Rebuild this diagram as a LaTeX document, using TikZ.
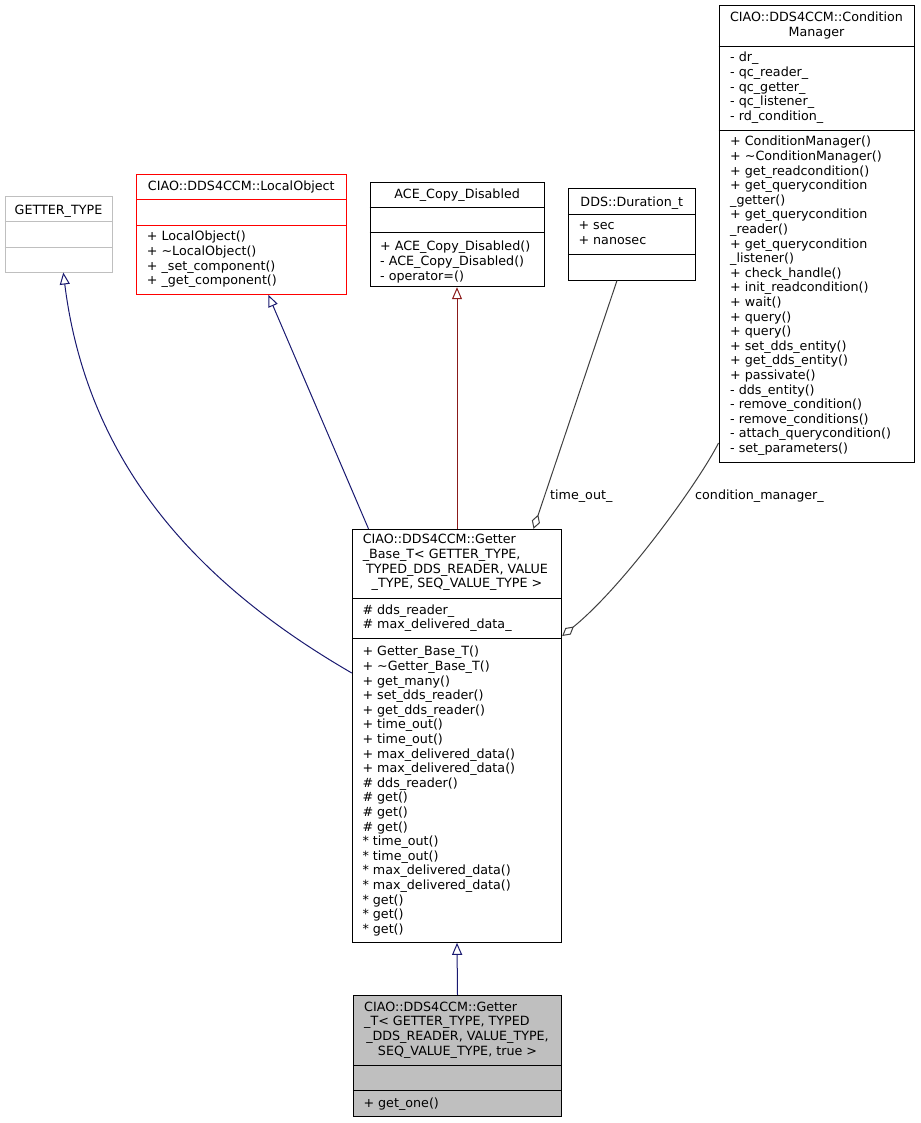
\documentclass[tikz,border=0pt]{standalone}
\usepackage{fontspec}
\setmainfont{DejaVu Sans}
\usetikzlibrary{arrows.meta,fit}
\definecolor{navy}{HTML}{191970}
\definecolor{brick}{HTML}{8B1A1A}
\definecolor{assoc}{HTML}{404040}
\definecolor{lgray}{HTML}{BFBFBF}
\newcommand\umlsize{\fontsize{12.7}{14.6}\selectfont}
\begin{document}
\begin{tikzpicture}[x=1pt,y=-1pt,
  box/.style={draw=black, line width=1pt, inner sep=0pt, fill=white},
  sepline/.style={line width=1pt},
  txt/.style={font=\umlsize, inner sep=0pt, anchor=north west, align=left, execute at begin node=\strut},
  ttl/.style={font=\umlsize, inner sep=0pt, anchor=north, align=center, execute at begin node=\strut},
  lbl/.style={font=\umlsize, inner sep=0pt, anchor=base west},
  inh/.style={-{Triangle[open,length=12pt,width=10pt,fill=white]}, line width=1pt},
  agg/.style={{Diamond[open,length=15pt,width=8.5pt,fill=white]}-, line width=1pt, draw=assoc}
]
\useasboundingbox (0,0) rectangle (920,1123);

% GETTER_TYPE
\node[box, draw=lgray, fit={(5,197) (112,272)}] (gtype) {};
\draw[sepline, lgray] (gtype.west |- 0,221.7) -- (gtype.east |- 0,221.7);
\draw[sepline, lgray] (gtype.west |- 0,247.3) -- (gtype.east |- 0,247.3);
\node[ttl] (gtypeT) at (58.5,203.6) {GETTER\_TYPE};

% LocalObject
\node[box, draw=red, fit={(136.7,174.7) (346,294.3)}] (lobj) {};
\draw[sepline, red] (lobj.west |- 0,199.3) -- (lobj.east |- 0,199.3);
\draw[sepline, red] (lobj.west |- 0,225.7) -- (lobj.east |- 0,225.7);
\node[ttl] (lobjT) at (241.3,180.3) {CIAO::DDS4CCM::LocalObject};
\node[txt] (lobjM) at (146.7,231) {+ LocalObject()\\+ \textasciitilde LocalObject()\\+ \_set\_component()\\+ \_get\_component()};

% ACE_Copy_Disabled
\node[box, fit={(370,182.3) (544.3,286.7)}] (ace) {};
\draw[sepline] (ace.west |- 0,207.3) -- (ace.east |- 0,207.3);
\draw[sepline] (ace.west |- 0,232.7) -- (ace.east |- 0,232.7);
\node[ttl] (aceT) at (457.2,187.6) {ACE\_Copy\_Disabled};
\node[txt] (aceM) at (380,241) {+ ACE\_Copy\_Disabled()\\- ACE\_Copy\_Disabled()\\- operator=()};

% DDS::Duration_t
\node[box, fit={(568.3,189) (695.3,280)}] (dur) {};
\draw[sepline] (dur.west |- 0,214.3) -- (dur.east |- 0,214.3);
\draw[sepline] (dur.west |- 0,254.3) -- (dur.east |- 0,254.3);
\node[ttl] (durT) at (631.8,196) {DDS::Duration\_t};
\node[txt] (durA) at (578.3,221.6) {+ sec\\+ nanosec};

% ConditionManager
\node[box, fit={(719,5.7) (914,462.3)}] (cm) {};
\draw[sepline] (cm.west |- 0,46.7) -- (cm.east |- 0,46.7);
\draw[sepline] (cm.west |- 0,130.7) -- (cm.east |- 0,130.7);
\node[ttl] (cmT) at (816.5,11.6) {CIAO::DDS4CCM::Condition\\Manager};
\node[txt] (cmA) at (730,52) {- dr\_\\- qc\_reader\_\\- qc\_getter\_\\- qc\_listener\_\\- rd\_condition\_};
\node[txt] (cmM) at (730,136) {+ ConditionManager()\\+ \textasciitilde ConditionManager()\\+ get\_readcondition()\\+ get\_querycondition\\\_getter()\\+ get\_querycondition\\\_reader()\\+ get\_querycondition\\\_listener()\\+ check\_handle()\\+ init\_readcondition()\\+ wait()\\+ query()\\+ query()\\+ set\_dds\_entity()\\+ get\_dds\_entity()\\+ passivate()\\- dds\_entity()\\- remove\_condition()\\- remove\_conditions()\\- attach\_querycondition()\\- set\_parameters()};

% Getter_Base_T
\node[box, fit={(352.3,529.3) (561.7,942.3)}] (gbase) {};
\draw[sepline] (gbase.west |- 0,598.7) -- (gbase.east |- 0,598.7);
\draw[sepline] (gbase.west |- 0,638.3) -- (gbase.east |- 0,638.3);
\node[txt] (gbaseT1) at (362.6,534.3) {CIAO::DDS4CCM::Getter\\\_Base\_T< GETTER\_TYPE,};
\node[ttl] (gbaseT2) at (457,563.5) {TYPED\_DDS\_READER, VALUE\\\_TYPE, SEQ\_VALUE\_TYPE >};
\node[txt] (gbaseA) at (362.3,604.3) {\# dds\_reader\_\\\# max\_delivered\_data\_};
\node[txt] (gbaseM) at (362.3,646) {+ Getter\_Base\_T()\\+ \textasciitilde Getter\_Base\_T()\\+ get\_many()\\+ set\_dds\_reader()\\+ get\_dds\_reader()\\+ time\_out()\\+ time\_out()\\+ max\_delivered\_data()\\+ max\_delivered\_data()\\\# dds\_reader()\\\# get()\\\# get()\\\# get()\\* time\_out()\\* time\_out()\\* max\_delivered\_data()\\* max\_delivered\_data()\\* get()\\* get()\\* get()};

% Getter_T
\node[box, fill=lgray, fit={(353.3,995.7) (561.7,1116)}] (gt) {};
\draw[sepline] (gt.west |- 0,1065) -- (gt.east |- 0,1065);
\draw[sepline] (gt.west |- 0,1090) -- (gt.east |- 0,1090);
\node[txt] (gtT1) at (364,1001.6) {CIAO::DDS4CCM::Getter\\\_T< GETTER\_TYPE, TYPED};
\node[ttl] (gtT2) at (457.5,1030.8) {\_DDS\_READER, VALUE\_TYPE,\\SEQ\_VALUE\_TYPE, true >};
\node[txt] (gtM) at (363.3,1097) {+ get\_one()};

% connectors
\draw[inh, navy] (gbase.west |- 0,673) .. controls (205,588) and (88,470) .. (gtype.south -| 63.3,0);
\draw[inh, navy] (gbase.north -| 368.5,0) -- (lobj.south -| 268.3,0);
\draw[inh, brick] (gbase.north) -- (ace.south -| gbase.north);
\draw[agg] (gbase.north -| 533.5,0) -- (dur.south -| 617,0);
\draw[agg] (gbase.east |- 0,636) .. controls (625,585) and (700,480) .. (cm.west |- 0,443);
\draw[inh, navy] (gt.north) -- (gbase.south);

\node[lbl] (lblTime) at (550,499.5) {time\_out\_};
\node[lbl] (lblCond) at (695,499.5) {condition\_manager\_};
\end{tikzpicture}
\end{document}
